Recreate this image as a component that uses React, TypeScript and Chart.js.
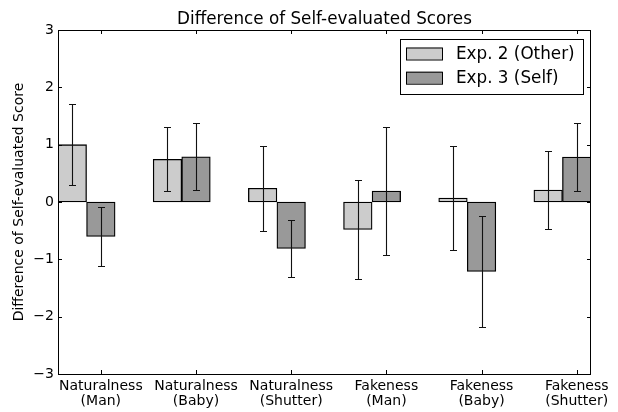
import { useEffect, useRef } from 'react';
import { Chart, registerables } from 'chart.js';

Chart.register(...registerables);

// Category labels (two lines each)
const CATEGORIES: string[][] = [
  ['Naturalness', '(Man)'],
  ['Naturalness', '(Baby)'],
  ['Naturalness', '(Shutter)'],
  ['Fakeness', '(Man)'],
  ['Fakeness', '(Baby)'],
  ['Fakeness', '(Shutter)'],
];

const SERIES_LABELS = ['Exp. 2 (Other)', 'Exp. 3 (Self)'];

// Mean difference and error (±) per category
const OTHER_MEAN = [1.0, 0.745, 0.24, -0.48, 0.07, 0.21];
const OTHER_ERR = [0.71, 0.555, 0.74, 0.86, 0.91, 0.68];
const SELF_MEAN = [-0.6, 0.79, -0.81, 0.19, -1.21, 0.785];
const SELF_ERR = [0.51, 0.585, 0.49, 1.11, 0.97, 0.585];

const Y_TICKS = [-3, -2, -1, 0, 1, 2, 3];

const BAR_WIDTH = 0.3;
const FONT = 'DejaVu Sans';
const OTHER_COLOR = '#cccccc';
const SELF_COLOR = '#999999';

const fmt = (v: number) => (v < 0 ? '\u2212' + Math.abs(v) : String(v));

const errorBarsPlugin = {
  id: 'errorBars',
  afterDatasetsDraw(chart: any) {
    const ctx = chart.ctx;
    const y = chart.scales.y;
    ctx.save();
    ctx.strokeStyle = '#111';
    ctx.lineWidth = 1.1;
    chart.data.datasets.forEach((ds: any, di: number) => {
      const meta = chart.getDatasetMeta(di);
      meta.data.forEach((bar: any, i: number) => {
        const v = ds.data[i].y;
        const e = ds.errors[i];
        const x = Math.round(bar.x) + 0.5;
        const top = Math.round(y.getPixelForValue(v + e)) + 0.5;
        const bot = Math.round(y.getPixelForValue(v - e)) + 0.5;
        ctx.beginPath();
        ctx.moveTo(x, top);
        ctx.lineTo(x, bot);
        ctx.moveTo(x - 3.5, top);
        ctx.lineTo(x + 3.5, top);
        ctx.moveTo(x - 3.5, bot);
        ctx.lineTo(x + 3.5, bot);
        ctx.stroke();
      });
    });
    ctx.restore();
  },
};

const framePlugin = {
  id: 'frame',
  afterDraw(chart: any) {
    const ctx = chart.ctx;
    const { left, right, top, bottom } = chart.chartArea;
    const xs = chart.scales.x;
    const ys = chart.scales.y;
    const L = 4;
    ctx.save();
    ctx.strokeStyle = '#000';
    ctx.lineWidth = 1;
    ctx.beginPath();
    xs.ticks.forEach((t: any) => {
      const px = Math.round(xs.getPixelForValue(t.value)) + 0.5;
      ctx.moveTo(px, bottom);
      ctx.lineTo(px, bottom - L);
      ctx.moveTo(px, top);
      ctx.lineTo(px, top + L);
    });
    ys.ticks.forEach((t: any) => {
      const py = Math.round(ys.getPixelForValue(t.value)) + 0.5;
      ctx.moveTo(left, py);
      ctx.lineTo(left + L, py);
      ctx.moveTo(right, py);
      ctx.lineTo(right - L, py);
    });
    ctx.stroke();
    ctx.strokeRect(left + 0.5, top + 0.5, right - left - 1, bottom - top);

    // title
    ctx.fillStyle = '#000';
    ctx.font = `16.8px "${FONT}"`;
    ctx.textAlign = 'center';
    ctx.textBaseline = 'alphabetic';
    ctx.fillText('Difference of Self-evaluated Scores', (left + right) / 2, top - 6);

    // y-axis title
    ctx.font = `14px "${FONT}"`;
    ctx.save();
    ctx.translate(19.5, (top + bottom) / 2);
    ctx.rotate(-Math.PI / 2);
    ctx.textBaseline = 'middle';
    ctx.fillText('Difference of Self-evaluated Score', 0, 0);
    ctx.restore();

    // legend
    const bw = 183;
    const bh = 55;
    const bx = right - 8 - bw;
    const by = top + 9;
    ctx.fillStyle = '#fff';
    ctx.fillRect(bx, by, bw, bh);
    ctx.strokeRect(bx + 0.5, by + 0.5, bw, bh);
    ctx.font = `16.8px "${FONT}"`;
    ctx.textAlign = 'left';
    ctx.textBaseline = 'middle';
    chart.data.datasets.forEach((ds: any, i: number) => {
      const cy = by + 14.5 + i * 24.2;
      ctx.fillStyle = ds.backgroundColor;
      ctx.fillRect(bx + 6, cy - 6, 36, 12);
      ctx.strokeRect(bx + 6.5, cy - 5.5, 36, 12);
      ctx.fillStyle = '#000';
      ctx.fillText(ds.label, bx + 56, cy + 1);
    });
    ctx.restore();
  },
};

export default function App() {
  const canvasRef = useRef<HTMLCanvasElement | null>(null);

  useEffect(() => {
    const canvas = canvasRef.current;
    if (!canvas) return;
    const tickPositions = CATEGORIES.map((_, i) => i + BAR_WIDTH);
    const chart = new Chart(canvas, {
      type: 'bar',
      data: {
        datasets: [
          {
            label: SERIES_LABELS[0],
            data: OTHER_MEAN.map((v, i) => ({ x: i, y: v })),
            errors: OTHER_ERR,
            backgroundColor: OTHER_COLOR,
            borderColor: '#000',
            borderWidth: 1.3,
            borderSkipped: false,
          } as any,
          {
            label: SERIES_LABELS[1],
            data: SELF_MEAN.map((v, i) => ({ x: i + BAR_WIDTH, y: v })),
            errors: SELF_ERR,
            backgroundColor: SELF_COLOR,
            borderColor: '#000',
            borderWidth: 1.3,
            borderSkipped: false,
          } as any,
        ],
      },
      options: {
        animation: false,
        responsive: false,
        devicePixelRatio: 1,
        grouped: false,
        categoryPercentage: 1,
        barPercentage: 1,
        layout: { padding: { left: 0, top: 30, right: 27, bottom: 0 } },
        plugins: { legend: { display: false }, tooltip: { enabled: false }, title: { display: false } },
        scales: {
          x: {
            type: 'linear',
            offset: false,
            min: -BAR_WIDTH / 2,
            max: CATEGORIES.length - 1 + BAR_WIDTH * 1.5,
            grid: { display: false, drawTicks: false },
            border: { display: false },
            afterBuildTicks: (scale: any) => {
              scale.ticks = tickPositions.map((v) => ({ value: v }));
            },
            afterFit: (scale: any) => {
              scale.height = 38;
            },
            ticks: {
              autoSkip: false,
              maxRotation: 0,
              minRotation: 0,
              padding: 4.5,
              color: '#000',
              font: { family: FONT, size: 14, lineHeight: 1.1 },
              callback: (_v: any, i: number) => CATEGORIES[i],
            },
          },
          y: {
            min: -3,
            max: 3,
            grid: { display: false, drawTicks: false },
            border: { display: false },
            afterBuildTicks: (scale: any) => {
              scale.ticks = Y_TICKS.map((v) => ({ value: v }));
            },
            afterFit: (scale: any) => {
              scale.width = 58;
            },
            ticks: {
              padding: 4,
              color: '#000',
              font: { family: FONT, size: 14 },
              callback: (v: any) => fmt(Number(v)),
            },
          },
        },
      } as any,
      plugins: [errorBarsPlugin, framePlugin],
    });
    return () => chart.destroy();
  }, []);

  return (
    <div style={{ position: 'fixed', left: 0, top: 0, width: 618, height: 412, background: '#fff' }}>
      <canvas ref={canvasRef} width={618} height={412} />
    </div>
  );
}
